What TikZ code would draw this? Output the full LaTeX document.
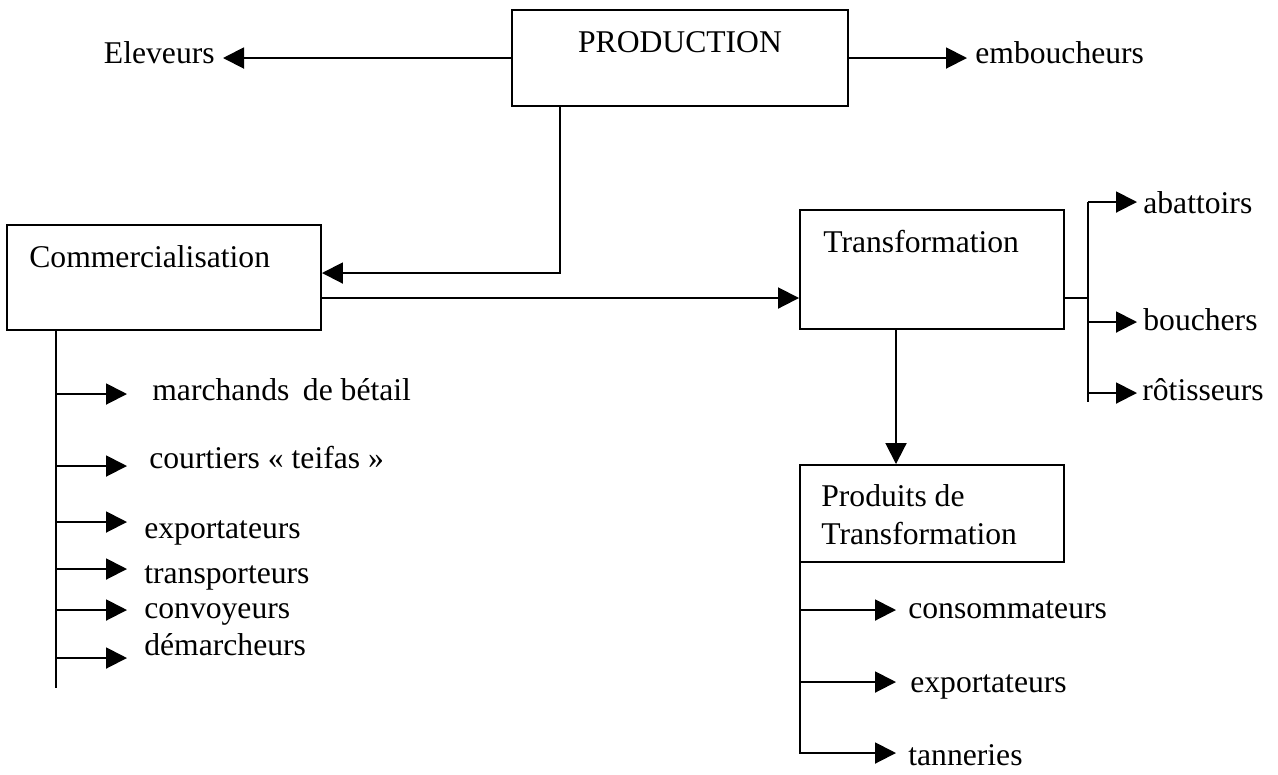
\documentclass[tikz,border=0pt]{standalone}
\usepackage{fontspec}
\setmainfont{Liberation Serif}
\usepackage{tikz}
\usetikzlibrary{arrows.meta,positioning}
\definecolor{Ink}{HTML}{000000}
\tikzset{
  chainBox/.style={rectangle,draw=Ink,line width=1.1pt,fill=white,inner sep=0pt},
  chainText/.style={text=Ink,font=\fontsize{18}{21.6}\selectfont,inner sep=0pt,align=left},
  trunk/.style={draw=Ink,line width=1.1pt},
  flow/.style={-{Triangle[length=4.2mm,width=4.2mm]},draw=Ink,line width=1.1pt}
}
\begin{document}
\begin{tikzpicture}[x=0.2mm,y=-0.2mm]
  \useasboundingbox (0,0) rectangle (1278,774);
  % boxes
  \node[chainBox,minimum width=67.2mm,minimum height=19.2mm] (prod) at (680,58) {};
  \node[chainBox,minimum width=62.8mm,minimum height=21mm] (comm) at (164,277.5) {};
  \node[chainBox,minimum width=52.8mm,minimum height=23.8mm] (trans) at (932,269.5) {};
  \node[chainBox,minimum width=52.8mm,minimum height=19.4mm] (prodtr) at (932,513.5) {};
  \node[chainText,anchor=base] (prodT) at (680,52) {PRODUCTION};
  \node[chainText,anchor=base west] (commT) at (29,267) {Commercialisation};
  \node[chainText,anchor=base west] (transT) at (823,252) {Transformation};
  \node[chainText,anchor=north west] (prodtrT) at (821,484) {Produits de\\Transformation};
  % outside actors
  \node[chainText,anchor=base east] (elev) at (215,63) {Eleveurs};
  \node[chainText,anchor=base west] (embouch) at (975,63) {emboucheurs};
  \node[chainText,anchor=base west] (march) at (152,400) {marchands\hspace{0.18em} de bétail};
  \node[chainText,anchor=base west] (court) at (149,468) {courtiers « teifas »};
  \node[chainText,anchor=base west] (exportA) at (144,538) {exportateurs};
  \node[chainText,anchor=base west] (transp) at (144,583) {transporteurs};
  \node[chainText,anchor=base west] (convoy) at (144,618) {convoyeurs};
  \node[chainText,anchor=base west] (demarch) at (144,655) {démarcheurs};
  \node[chainText,anchor=base west] (abatt) at (1143,213) {abattoirs};
  \node[chainText,anchor=base west] (bouch) at (1143,330) {bouchers};
  \node[chainText,anchor=base west] (rotis) at (1142,400) {rôtisseurs};
  \node[chainText,anchor=base west] (consom) at (908,618) {consommateurs};
  \node[chainText,anchor=base west] (exportB) at (910,692) {exportateurs};
  \node[chainText,anchor=base west] (tann) at (908,765) {tanneries};
  % production links
  \coordinate (elevTip) at (223,58);
  \coordinate (embTip) at (967,58);
  \coordinate (pBend) at (560,273);
  \coordinate (link) at (560,298);
  \draw[flow] (prod.west) -- (elevTip);
  \draw[flow] (prod.east) -- (embTip);
  \draw[flow] (prod.south -| pBend) -- (pBend) -- (comm.east |- pBend);
  \draw[flow] (comm.east |- link) -- (trans.west |- link);
  % commercialisation branches
  \coordinate (cEnd) at (56,688);
  \draw[trunk] (comm.south -| cEnd) -- (cEnd);
  \foreach \y/\n in {394/1,466/2,522/3,569/4,610/5,658/6}{
    \coordinate (cb\n) at (56,\y);
    \coordinate (ct\n) at (127,\y);
    \draw[flow] (cb\n) -- (ct\n);
  }
  % transformation branches
  \coordinate (tFork) at (1088,298);
  \coordinate (tTop) at (1088,202);
  \coordinate (tBot) at (1088,402);
  \draw[trunk] (trans.east |- tFork) -- (tFork);
  \draw[trunk] (tTop) -- (tBot);
  \foreach \y/\n in {202/1,322/2,393/3}{
    \coordinate (tb\n) at (1088,\y);
    \coordinate (tt\n) at (1137,\y);
    \draw[flow] (tb\n) -- (tt\n);
  }
  \coordinate (tDown) at (896,0);
  \draw[flow] (trans.south -| tDown) -- (prodtr.north -| tDown);
  % products branches
  \coordinate (pCorner) at (800,753);
  \coordinate (pTip) at (896,753);
  \draw[flow] (prodtr.south -| pCorner) -- (pCorner) -- (pTip);
  \foreach \y/\n in {610/1,682/2}{
    \coordinate (pb\n) at (800,\y);
    \coordinate (pt\n) at (896,\y);
    \draw[flow] (pb\n) -- (pt\n);
  }
\end{tikzpicture}
\end{document}
